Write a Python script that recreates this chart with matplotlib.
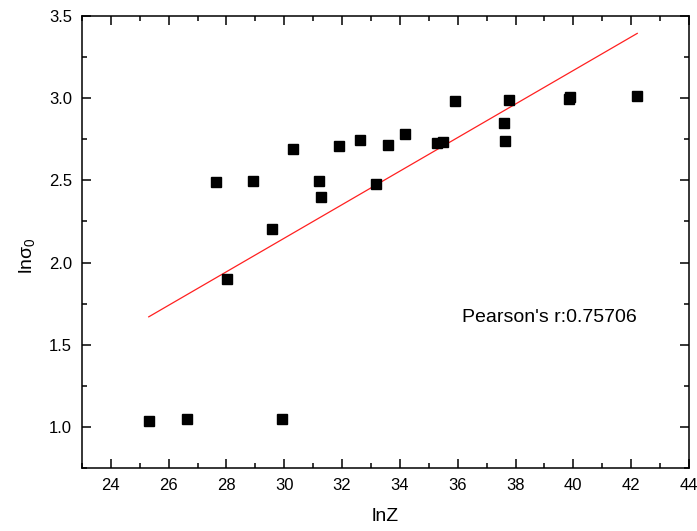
import numpy as np
import matplotlib
matplotlib.use("Agg")
import matplotlib.pyplot as plt
from matplotlib.ticker import MultipleLocator

plt.rcParams['font.family'] = ['Liberation Sans', 'DejaVu Sans']
plt.rcParams['mathtext.fontset'] = 'custom'
plt.rcParams['mathtext.rm'] = 'Liberation Sans'
plt.rcParams['mathtext.it'] = 'Liberation Sans'

lnZ = [25.31, 26.62, 27.62, 28.03, 28.90, 29.59, 29.93, 30.31, 31.21, 31.28,
       31.90, 32.62, 33.17, 33.59, 34.17, 35.28, 35.48, 35.90, 37.59, 37.62,
       37.79, 39.86, 39.90, 42.21]
ln_sigma0 = [1.038, 1.050, 2.487, 1.897, 2.499, 2.207, 1.050, 2.693, 2.499, 2.400,
             2.706, 2.748, 2.480, 2.718, 2.785, 2.730, 2.736, 2.980, 2.850, 2.742,
             2.986, 2.995, 3.010, 3.016]
pearson_label = "Pearson's r:0.75706"

x = np.array(lnZ)
y = np.array(ln_sigma0)
slope, intercept = np.polyfit(x, y, 1)
fx = np.array([x.min(), x.max()])

fig = plt.figure(figsize=(6.97, 5.31), dpi=100)
ax = fig.add_axes([0.1176, 0.1186, 0.8709, 0.8513])

ax.plot(fx, slope * fx + intercept, color='#ff2020', lw=0.9, zorder=2)
ax.plot(x, y, 's', color='black', ms=7, zorder=3)

ax.set_xlim(23, 44)
ax.set_ylim(0.75, 3.5)
ax.xaxis.set_major_locator(MultipleLocator(2))
ax.xaxis.set_minor_locator(MultipleLocator(1))
ax.yaxis.set_major_locator(MultipleLocator(0.5))
ax.yaxis.set_minor_locator(MultipleLocator(0.25))
ax.yaxis.set_major_formatter(matplotlib.ticker.FormatStrFormatter('%.1f'))

ax.tick_params(which='both', direction='in', top=True, right=True,
               labeltop=False, labelright=False, width=1.1, labelsize=12)
ax.tick_params(which='major', length=6.3, pad=7.5)
ax.tick_params(axis='y', which='major', pad=7)
ax.tick_params(which='minor', length=3.8)
for s in ax.spines.values():
    s.set_linewidth(1.1)

ax.set_xlabel('lnZ', fontsize=14)
ax.set_ylabel(r'ln$\sigma_0$', fontsize=14)
ax.xaxis.set_label_coords(0.5, -0.088)
ax.yaxis.set_label_coords(-0.074, 0.47)

ax.text(36.15, 1.665, pearson_label, fontsize=14, va='center', ha='left')

fig.savefig('out.png', dpi=100)
